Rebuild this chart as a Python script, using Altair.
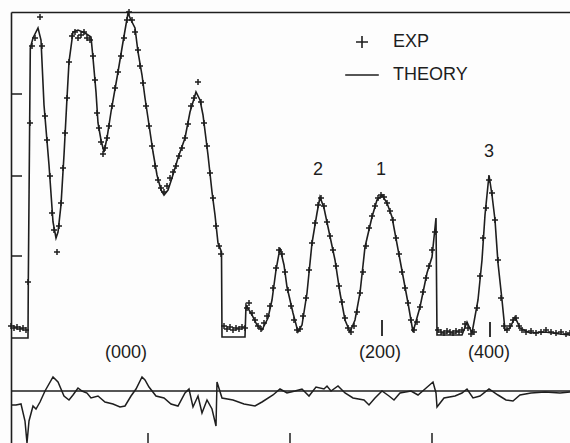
import altair as alt
import pandas as pd

# ---------------- data (channel units / intensity units) -------------
theory_x = [5, 22, 22.3, 24.3, 27, 32, 35, 38, 43, 47, 50, 52, 55, 58, 61, 63, 67, 72, 79, 85,
            87, 90, 92, 95, 98, 101, 105, 112, 117, 122, 125, 129, 132, 136, 139, 142, 147, 151,
            155, 158, 162, 166, 172, 179, 184, 190, 194, 197, 202, 206, 209, 212, 215.5, 216,
            239, 240, 246, 251, 256, 262, 266, 270, 274, 278, 281, 287, 292, 296, 301, 306, 311,
            314, 318, 322, 329, 334, 339, 344, 349, 354, 359, 366, 371, 376, 381, 386, 394, 402,
            407, 414, 421, 426, 430, 431, 456, 461, 466, 472, 476, 479, 483, 486, 489, 492, 496,
            499, 504, 509, 514, 524, 539, 554, 564]
theory_y = [0, 0, 56, 290, 300, 310, 298, 233, 173, 116, 100, 106, 133, 183, 240, 276, 306, 308,
            305, 301, 280, 246, 215, 198, 186, 200, 226, 266, 296, 325, 318, 310, 286, 263, 240,
            220, 186, 163, 148, 143, 148, 160, 180, 200, 226, 246, 238, 223, 183, 146, 123, 95,
            86, 1, 1, 33, 23, 13, 8, 20, 38, 68, 90, 73, 51, 25, 6, 13, 45, 95, 125, 141, 130,
            111, 78, 45, 18, 6, 18, 45, 91, 121, 138, 143, 135, 121, 78, 35, 6, 31, 65, 81, 120,
            3, 3, 16, 5, 38, 78, 123, 163, 143, 118, 75, 38, 8, 10, 21, 10, 5, 6, 4, 3]

exp_x = [5, 8, 11, 14, 17, 20, 22, 24, 26, 29, 34, 36, 39, 41, 44, 46, 48, 51, 53, 55, 57, 59,
         61, 63, 66, 69, 72, 75, 78, 81, 84, 87, 89, 91, 93, 95, 97, 99, 101, 103, 106, 109, 112,
         115, 118, 121, 123, 126, 129, 132, 134, 137, 140, 143, 146, 149, 152, 155, 158, 161,
         164, 167, 170, 173, 176, 179, 182, 185, 188, 192, 195, 198, 201, 204, 207, 210, 213,
         215, 218, 221, 224, 227, 230, 233, 236, 239, 241, 243, 246, 249, 252, 255, 258, 261,
         264, 267, 270, 273, 276, 279, 282, 285, 288, 291, 294, 297, 300, 303, 306, 309, 312,
         315, 318, 321, 324, 327, 330, 333, 336, 339, 342, 345, 348, 351, 354, 357, 360, 363,
         366, 369, 372, 375, 378, 381, 384, 387, 390, 393, 396, 399, 402, 405, 408, 411, 414,
         417, 420, 423, 426, 429, 432, 435, 438, 441, 444, 447, 450, 453, 456, 459, 462, 465,
         468, 471, 474, 477, 480, 483, 486, 489, 492, 495, 498, 501, 504, 507, 510, 513, 516,
         520, 525, 530, 535, 540, 545, 550, 555, 560, 564]
exp_y = [12, 10, 11, 9, 10, 8, 56, 215, 292, 300, 321, 292, 222, 198, 162, 125, 108, 86, 112,
         135, 170, 205, 240, 276, 302, 306, 300, 303, 306, 300, 298, 282, 258, 225, 210, 196,
         184, 190, 200, 212, 232, 250, 266, 282, 300, 318, 326, 318, 306, 288, 272, 255, 232,
         212, 192, 172, 158, 150, 146, 152, 160, 166, 172, 182, 190, 200, 214, 232, 240, 256,
         236, 215, 192, 165, 140, 112, 92, 84, 12, 9, 11, 8, 10, 9, 11, 10, 30, 35, 25, 18, 12,
         9, 15, 22, 32, 50, 70, 88, 84, 66, 48, 32, 18, 8, 9, 22, 40, 68, 95, 115, 133, 140,
         132, 116, 102, 88, 72, 52, 36, 20, 10, 6, 12, 26, 45, 66, 92, 110, 122, 132, 140, 143,
         141, 135, 127, 118, 100, 84, 66, 50, 35, 18, 8, 16, 31, 46, 60, 72, 88, 106, 8, 6, 5,
         7, 6, 5, 7, 6, 8, 14, 10, 4, 6, 30, 62, 100, 130, 158, 145, 118, 78, 40, 12, 8, 12,
         18, 20, 12, 8, 6, 7, 5, 6, 8, 6, 5, 6, 4, 5]

resid_x = [5, 10, 15, 19, 21, 23, 27, 30, 34, 39, 47, 52, 58, 63, 67, 72, 76, 81, 85, 92, 99,
           107, 114, 119, 125, 130, 136, 139, 143, 150, 158, 165, 172, 179, 183, 187, 192, 196,
           201, 206, 210, 211, 216, 227, 238, 249, 256, 267, 274, 281, 289, 296, 303, 310, 318,
           321, 325, 332, 339, 347, 358, 363, 369, 376, 383, 388, 394, 405, 412, 419, 427, 430,
           431, 438, 449, 456, 461, 467, 474, 483, 492, 500, 507, 514, 525, 539, 554, 564]
resid_y = [-14, -14, -13, -30, -52, -30, -15, -18, -11, 0, 14, 9, -5, -9, -4, 3, 0, -2, -7, -5,
           -11, -13, -16, -15, -5, 2, 14, 11, 4, -5, -7, -13, -15, -2, 2, -16, -5, -22, -9, -18,
           -35, 9, -7, -9, -13, -15, -11, -4, 2, -2, 0, 2, -5, 4, 2, 5, 0, 5, -2, -7, -9, -14,
           -7, 0, -5, -9, -2, 0, -4, 2, 9, -2, -16, -7, -5, -2, 2, -7, -5, 2, -4, -9, -10, -4,
           -2, -1, -2, -1]
RESID_ZERO = -53

x_ticks = [142, 284, 426]
y_ticks = [82, 162, 244]

ann_x = [120, 374, 483, 312, 375, 483]
ann_y = [-15, -15, -15, 168, 168, 186]
ann_text = ["(000)", "(200)", "(400)", "2", "1", "3"]

peak_mark_x = [376, 484]
peak_mark_y1 = [2, 1]
peak_mark_y2 = [18, 16]

X_DOMAIN = [5, 564]
Y_DOMAIN = [-105, 326]

INK = "#1e1e1e"
FONT = "Liberation Sans"
CROSS = "M-1,0L1,0M0,-1L0,1"
DASH = "M-2.8,0L2.8,0"
W, H = 559, 431

# ---------------- frames -------------------------------------------------------------------
theory = pd.DataFrame({"x": theory_x, "y": theory_y, "i": range(len(theory_x))})
exp = pd.DataFrame({"x": exp_x, "y": exp_y, "series": ["EXP"] * len(exp_x)})
resid = pd.DataFrame({"x": resid_x, "r": resid_y, "i": range(len(resid_x))})
ann = pd.DataFrame({"x": ann_x, "y": ann_y, "t": ann_text})
pm = pd.DataFrame({"x": peak_mark_x, "y": peak_mark_y1, "y2": peak_mark_y2})

xs = alt.Scale(domain=X_DOMAIN, nice=False, zero=False)
ys = alt.Scale(domain=Y_DOMAIN, nice=False, zero=False)

frame = alt.Chart(pd.DataFrame({"x": [X_DOMAIN[0]], "y": [Y_DOMAIN[1]]})).mark_point(opacity=0).encode(
    x=alt.X("x:Q", scale=xs, axis=alt.Axis(orient="top", domain=True, ticks=False, labels=False,
                                            grid=False, title=None, domainColor=INK, domainWidth=1.6)),
    y=alt.Y("y:Q", scale=ys, axis=alt.Axis(orient="left", domain=True, ticks=False, labels=False,
                                            grid=False, title=None, domainColor=INK, domainWidth=1.6)),
)

theory_line = alt.Chart(theory).mark_line(color=INK, strokeWidth=1.6).encode(
    x=alt.X("x:Q", scale=xs), y=alt.Y("y:Q", scale=ys), order="i:Q"
)

exp_pts = alt.Chart(exp).mark_point(filled=False, size=36, strokeWidth=1.5, color=INK, opacity=1).encode(
    x=alt.X("x:Q", scale=xs),
    y=alt.Y("y:Q", scale=ys),
    shape=alt.Shape("series:N",
                    scale=alt.Scale(domain=["EXP", "THEORY"], range=[CROSS, DASH]),
                    legend=alt.Legend(orient="none", legendX=342, legendY=21, title=None,
                                      symbolSize=144, symbolStrokeWidth=1.6,
                                      symbolStrokeColor=INK, symbolFillColor="transparent",
                                      labelFont=FONT, labelFontSize=18, labelColor=INK,
                                      labelOffset=22, rowPadding=14, padding=0)),
)

resid_line = alt.Chart(resid).transform_calculate(y=f"datum.r + ({RESID_ZERO})").mark_line(
    color=INK, strokeWidth=1.5).encode(
    x=alt.X("x:Q", scale=xs), y=alt.Y("y:Q", scale=ys), order="i:Q"
)

zero_rule = alt.Chart(pd.DataFrame({"z": [RESID_ZERO]})).mark_rule(color=INK, strokeWidth=1.5).encode(
    y=alt.Y("z:Q", scale=ys)
)

left_ticks = alt.Chart(pd.DataFrame({"y": y_ticks})).mark_rule(color=INK, strokeWidth=1.5).encode(
    y=alt.Y("y:Q", scale=ys), x=alt.value(0), x2=alt.value(11)
)

bottom_ticks = alt.Chart(pd.DataFrame({"x": x_ticks})).mark_rule(color=INK, strokeWidth=1.5).encode(
    x=alt.X("x:Q", scale=xs), y=alt.value(H - 10), y2=alt.value(H)
)

labels = alt.Chart(ann).mark_text(font=FONT, fontSize=18, color=INK, align="center",
                                  baseline="middle").encode(
    x=alt.X("x:Q", scale=xs), y=alt.Y("y:Q", scale=ys), text="t:N"
)

peak_marks = alt.Chart(pm).mark_rule(color=INK, strokeWidth=1.8).encode(
    x=alt.X("x:Q", scale=xs), y=alt.Y("y:Q", scale=ys), y2="y2:Q"
)

chart = alt.layer(
    frame, zero_rule, left_ticks, bottom_ticks, resid_line, theory_line, exp_pts, labels, peak_marks
).properties(
    width=W, height=H, autosize="none",
    padding={"left": 11, "top": 12, "right": 0, "bottom": 0},
    background="#fdfdfd",
).configure_view(stroke="transparent")

chart.save("out.html", embed_options={"renderer": "svg", "actions": False})
